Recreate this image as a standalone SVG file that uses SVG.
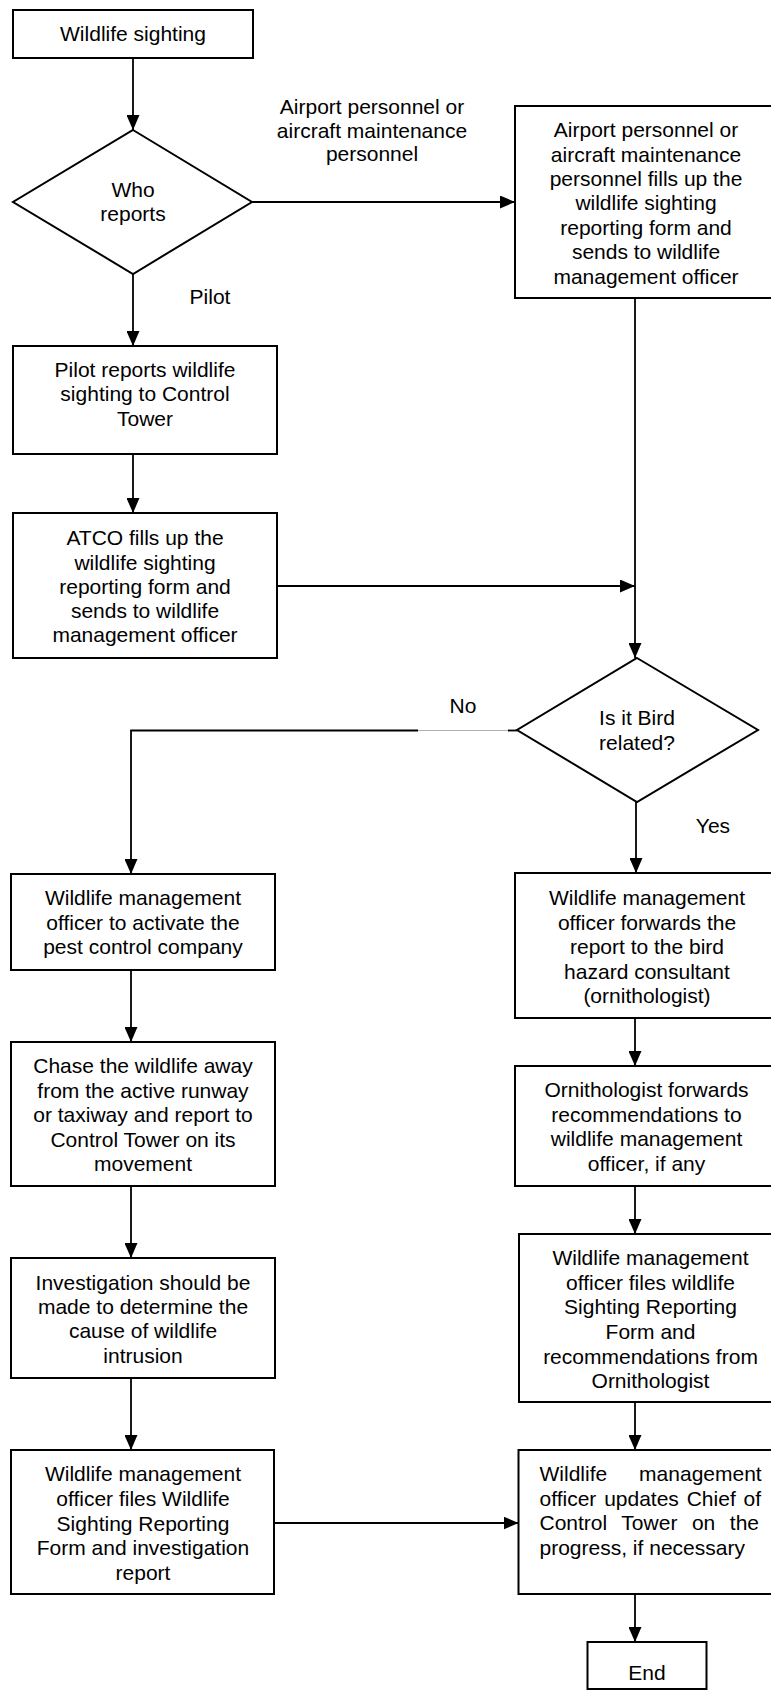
<svg xmlns="http://www.w3.org/2000/svg" width="771" height="1692" viewBox="0 0 771 1692">
<style>
.box{fill:#fff;stroke:#000;stroke-width:2}
.ln{fill:none;stroke:#000;stroke-width:1.8}
.t{font-family:"Liberation Sans",Arial,sans-serif;font-size:21px;fill:#000;text-anchor:middle}
.tl{font-family:"Liberation Sans",Arial,sans-serif;font-size:21px;fill:#000}
</style>
<defs>
<marker id="ah" markerUnits="userSpaceOnUse" markerWidth="15" markerHeight="13" refX="15" refY="6.5" orient="auto">
<path d="M0,0 L15,6.5 L0,13 Z" fill="#000"/>
</marker>
</defs>
<rect width="771" height="1692" fill="#fff"/>

<g id="connectors">
<line class="ln" x1="133" y1="58" x2="133" y2="130" marker-end="url(#ah)"/>
<line class="ln" x1="252" y1="202" x2="515" y2="202" marker-end="url(#ah)"/>
<line class="ln" x1="133" y1="274" x2="133" y2="346" marker-end="url(#ah)"/>
<line class="ln" x1="133" y1="454" x2="133" y2="513" marker-end="url(#ah)"/>
<line class="ln" x1="635" y1="298" x2="635" y2="658" marker-end="url(#ah)"/>
<line class="ln" x1="277" y1="586" x2="635" y2="586" marker-end="url(#ah)"/>
<line class="ln" x1="517" y1="730.5" x2="508" y2="730.5"/>
<line x1="508" y1="730.5" x2="418" y2="730.5" stroke="#b0b0b0" stroke-width="1"/>
<polyline class="ln" points="418,730.5 131,730.5 131,874" marker-end="url(#ah)"/>
<line class="ln" x1="636" y1="802" x2="636" y2="873" marker-end="url(#ah)"/>
<line class="ln" x1="131" y1="970" x2="131" y2="1042" marker-end="url(#ah)"/>
<line class="ln" x1="131" y1="1186" x2="131" y2="1258" marker-end="url(#ah)"/>
<line class="ln" x1="131" y1="1378" x2="131" y2="1450" marker-end="url(#ah)"/>
<line class="ln" x1="274" y1="1523" x2="518.5" y2="1523" marker-end="url(#ah)"/>
<line class="ln" x1="635" y1="1018" x2="635" y2="1066" marker-end="url(#ah)"/>
<line class="ln" x1="635" y1="1186" x2="635" y2="1234" marker-end="url(#ah)"/>
<line class="ln" x1="635" y1="1402" x2="635" y2="1450" marker-end="url(#ah)"/>
<line class="ln" x1="635" y1="1594" x2="635" y2="1642" marker-end="url(#ah)"/>
</g>

<g id="labels">
<text class="t" x="372"><tspan x="372" y="114">Airport personnel or</tspan><tspan x="372" y="137.5">aircraft maintenance</tspan><tspan x="372" y="161">personnel</tspan></text>
<text class="t" x="210" y="304">Pilot</text>
<text class="t" x="463" y="713">No</text>
<text class="t" x="713" y="833">Yes</text>
</g>

<g id="start">
<rect class="box" x="13" y="10" width="240" height="48"/>
<text class="t" x="133" y="40.5">Wildlife sighting</text>
</g>

<g id="who-reports">
<polygon class="box" points="133,130 252,202 133,274 13,202"/>
<text class="t"><tspan x="133" y="197">Who</tspan><tspan x="133" y="220.5">reports</tspan></text>
</g>

<g id="airport-personnel">
<rect class="box" x="515" y="106" width="262" height="192"/>
<text class="t"><tspan x="646" y="137.2">Airport personnel or</tspan><tspan x="646" y="161.6">aircraft maintenance</tspan><tspan x="646" y="186">personnel fills up the</tspan><tspan x="646" y="210.4">wildlife sighting</tspan><tspan x="646" y="234.9">reporting form and</tspan><tspan x="646" y="259.3">sends to wildlife</tspan><tspan x="646" y="283.7">management officer</tspan></text>
</g>

<g id="pilot-reports">
<rect class="box" x="13" y="346" width="264" height="108"/>
<text class="t"><tspan x="145" y="377">Pilot reports wildlife</tspan><tspan x="145" y="401">sighting to Control</tspan><tspan x="145" y="425.5">Tower</tspan></text>
</g>

<g id="atco">
<rect class="box" x="13" y="513" width="264" height="145"/>
<text class="t"><tspan x="145" y="545.3">ATCO fills up the</tspan><tspan x="145" y="569.5">wildlife sighting</tspan><tspan x="145" y="593.7">reporting form and</tspan><tspan x="145" y="617.9">sends to wildlife</tspan><tspan x="145" y="642.1">management officer</tspan></text>
</g>

<g id="bird-related">
<polygon class="box" points="637,658 758,730 637,802 517,730"/>
<text class="t"><tspan x="637" y="725.3">Is it Bird</tspan><tspan x="637" y="750.3">related?</tspan></text>
</g>

<g id="pest-control">
<rect class="box" x="11" y="874" width="264" height="96"/>
<text class="t"><tspan x="143" y="905.3">Wildlife management</tspan><tspan x="143" y="929.7">officer to activate the</tspan><tspan x="143" y="953.9">pest control company</tspan></text>
</g>

<g id="chase">
<rect class="box" x="11" y="1042" width="264" height="144"/>
<text class="t"><tspan x="143" y="1073">Chase the wildlife away</tspan><tspan x="143" y="1097.5">from the active runway</tspan><tspan x="143" y="1122">or taxiway and report to</tspan><tspan x="143" y="1146.5">Control Tower on its</tspan><tspan x="143" y="1171">movement</tspan></text>
</g>

<g id="investigation">
<rect class="box" x="11" y="1258" width="264" height="120"/>
<text class="t"><tspan x="143" y="1289.7">Investigation should be</tspan><tspan x="143" y="1314.2">made to determine the</tspan><tspan x="143" y="1338.4">cause of wildlife</tspan><tspan x="143" y="1362.8">intrusion</tspan></text>
</g>

<g id="files-investigation">
<rect class="box" x="11" y="1450" width="263" height="144"/>
<text class="t"><tspan x="143" y="1481.3">Wildlife management</tspan><tspan x="143" y="1506">officer files Wildlife</tspan><tspan x="143" y="1530.5">Sighting Reporting</tspan><tspan x="143" y="1555">Form and investigation</tspan><tspan x="143" y="1579.5">report</tspan></text>
</g>

<g id="forwards-consultant">
<rect class="box" x="515" y="873" width="262" height="145"/>
<text class="t"><tspan x="647" y="905.3">Wildlife management</tspan><tspan x="647" y="929.7">officer forwards the</tspan><tspan x="647" y="954.3">report to the bird</tspan><tspan x="647" y="979">hazard consultant</tspan><tspan x="647" y="1003.3">(ornithologist)</tspan></text>
</g>

<g id="ornithologist">
<rect class="box" x="515" y="1066" width="262" height="120"/>
<text class="t"><tspan x="646.5" y="1097">Ornithologist forwards</tspan><tspan x="646.5" y="1121.7">recommendations to</tspan><tspan x="646.5" y="1146.2">wildlife management</tspan><tspan x="646.5" y="1170.8">officer, if any</tspan></text>
</g>

<g id="files-recommendations">
<rect class="box" x="519" y="1234" width="258" height="168"/>
<text class="t"><tspan x="650.5" y="1265.3">Wildlife management</tspan><tspan x="650.5" y="1289.8">officer files wildlife</tspan><tspan x="650.5" y="1314.3">Sighting Reporting</tspan><tspan x="650.5" y="1338.8">Form and</tspan><tspan x="650.5" y="1363.5">recommendations from</tspan><tspan x="650.5" y="1388.3">Ornithologist</tspan></text>
</g>

<g id="updates-chief">
<rect class="box" x="518.5" y="1450" width="258" height="144"/>
<text class="tl" x="539.5" y="1481">Wildlife</text>
<text class="tl" x="761.7" y="1481" text-anchor="end">management</text>
<text class="tl" x="539.5" y="1505.5" word-spacing="2">officer updates Chief of</text>
<text class="tl" x="539.5" y="1530" word-spacing="8.7">Control Tower on the</text>
<text class="tl" x="539.5" y="1554.5">progress, if necessary</text>
</g>

<g id="end">
<rect class="box" x="587.5" y="1642" width="119" height="47"/>
<text class="t" x="647" y="1680">End</text>
</g>
</svg>
